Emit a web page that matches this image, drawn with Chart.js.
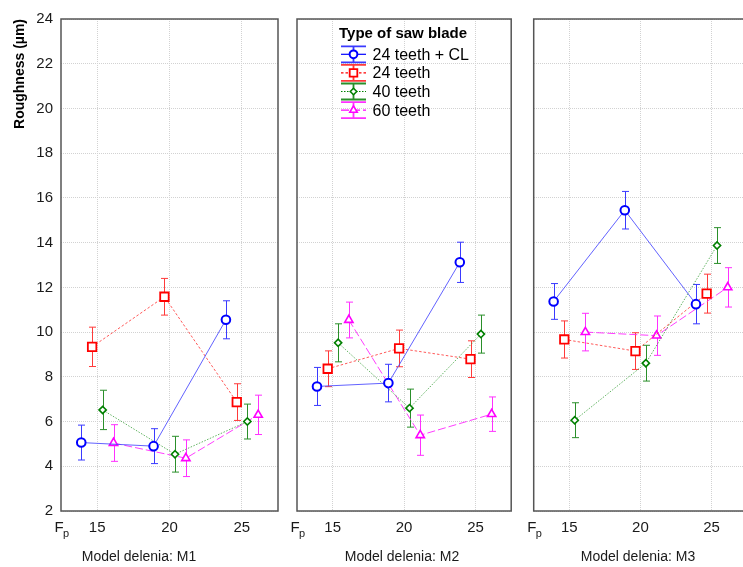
<!DOCTYPE html>
<html>
<head>
<meta charset="utf-8">
<title>Roughness by saw blade</title>
<script src="https://cdn.jsdelivr.net/npm/chart.js@4.4.1/dist/chart.umd.min.js"></script>
<style>
    html, body { margin: 0; padding: 0; background: #fff; overflow: hidden; }
    #quadro { position: relative; width: 743px; height: 567px; overflow: hidden; }
    #quadro canvas { position: absolute; top: 0; }
</style>
</head>
<body>
<div id="quadro">
    <canvas id="painelM1" width="290" height="567" style="left:0px"></canvas>
    <canvas id="painelM2" width="230" height="567" style="left:289px"></canvas>
    <canvas id="painelM3" width="230" height="567" style="left:525px"></canvas>
</div>
<script>
// valores
const fpTicks = [15, 20, 25];
const nomesSerras = ["24 teeth + CL", "24 teeth", "40 teeth", "60 teeth"];
const titulosPaineis = ["Model delenia: M1", "Model delenia: M2", "Model delenia: M3"];
const tituloEixoY = "Roughness (µm)";

// M1 - medias e meia amplitude do intervalo
const m1Dentes24CL = [5.06, 4.90, 10.55];
const m1Dentes24CLErro = [0.78, 0.78, 0.85];
const m1Dentes24 = [9.34, 11.58, 6.87];
const m1Dentes24Erro = [0.88, 0.82, 0.82];
const m1Dentes40 = [6.52, 4.54, 6.00];
const m1Dentes40Erro = [0.88, 0.80, 0.78];
const m1Dentes60 = [5.04, 4.36, 6.30];
const m1Dentes60Erro = [0.82, 0.82, 0.88];

// M2
const m2Dentes24CL = [7.57, 7.72, 13.12];
const m2Dentes24CLErro = [0.85, 0.84, 0.90];
const m2Dentes24 = [8.36, 9.27, 8.79];
const m2Dentes24Erro = [0.80, 0.82, 0.82];
const m2Dentes40 = [9.52, 6.60, 9.91];
const m2Dentes40Erro = [0.85, 0.85, 0.85];
const m2Dentes60 = [10.54, 5.39, 6.33];
const m2Dentes60Erro = [0.80, 0.90, 0.77];

// M3
const m3Dentes24CL = [11.37, 15.45, 11.25];
const m3Dentes24CLErro = [0.80, 0.84, 0.88];
const m3Dentes24 = [9.67, 9.15, 11.72];
const m3Dentes24Erro = [0.83, 0.82, 0.87];
const m3Dentes40 = [6.06, 8.61, 13.87];
const m3Dentes40Erro = [0.78, 0.80, 0.80];
const m3Dentes60 = [10.00, 9.84, 12.00];
const m3Dentes60Erro = [0.84, 0.88, 0.88];

const FONTE = "'Liberation Sans', Arial, sans-serif";
Chart.defaults.font.family = FONTE;
Chart.defaults.color = "#1a1a1a";

// aparencia de cada serie (deslocamento horizontal para nao sobrepor)
const estilosSeries = [
    { linha: "rgba(70,70,255,0.85)", erro: "#3a3aff", marcador: "#0000ff", dash: [], ponto: "circle", raio: 4.3, borda: 2, desvio: -1.1 },
    { linha: "rgba(255,60,60,0.85)", erro: "#ff3a3a", marcador: "#ff0000", dash: [2.5, 2], ponto: "rect", raio: 6, borda: 1.8, desvio: -0.35 },
    { linha: "rgba(60,160,60,0.8)", erro: "#2a8f2a", marcador: "#008000", dash: [1.5, 1.5], ponto: "rectRot", raio: 3.6, borda: 1.6, desvio: 0.38 },
    { linha: "rgba(255,40,255,0.9)", erro: "#ff30ff", marcador: "#ff00ff", dash: [8, 3], ponto: "triangle", raio: 4.8, borda: 1.6, desvio: 1.13 },
];

/**
 * desenha barras de erro verticais com tracos nas pontas
 */
const pluginBarrasErro = {
    id: "barrasErro",
    beforeDatasetsDraw(chart) {
        const ctx = chart.ctx;
        const escalaY = chart.scales.y;
        chart.data.datasets.forEach((ds, i) => {
            const meta = chart.getDatasetMeta(i);
            ctx.save();
            ctx.strokeStyle = ds.corErro;
            ctx.lineWidth = 1;
            meta.data.forEach((pt, j) => {
                const e = ds.erros[j];
                const yTopo = escalaY.getPixelForValue(ds.data[j].y + e);
                const yBase = escalaY.getPixelForValue(ds.data[j].y - e);
                const x = Math.round(pt.x) + 0.5;
                ctx.beginPath();
                ctx.moveTo(x, yTopo); ctx.lineTo(x, yBase);
                ctx.moveTo(x - 3.5, yTopo); ctx.lineTo(x + 3.5, yTopo);
                ctx.moveTo(x - 3.5, yBase); ctx.lineTo(x + 3.5, yBase);
                ctx.stroke();
            });
            ctx.restore();
        });
    },
};

/**
 * moldura do painel e rotulo F_p
 */
const pluginMoldura = {
    id: "moldura",
    afterDraw(chart) {
        const { ctx, chartArea } = chart;
        ctx.save();
        ctx.strokeStyle = "#555";
        ctx.lineWidth = 1.5;
        ctx.strokeRect(chartArea.left, chartArea.top, chartArea.right - chartArea.left, chartArea.bottom - chartArea.top);
        ctx.fillStyle = "#1a1a1a";
        ctx.textBaseline = "middle";
        ctx.textAlign = "left";
        ctx.font = "15px " + FONTE;
        ctx.fillText("F", chartArea.left - 6.5, chartArea.bottom + 17);
        ctx.font = "11px " + FONTE;
        ctx.fillText("p", chartArea.left + 2, chartArea.bottom + 23);
        ctx.restore();
    },
};

/**
 * legenda desenhada dentro do painel M2
 */
const pluginLegenda = {
    id: "legendaSerra",
    afterDraw(chart, args, opcoes) {
        if (!opcoes.mostrar) return;
        const { ctx, chartArea } = chart;
        const xs = chartArea.left + 44;
        const xc = xs + 12.5;
        ctx.save();
        ctx.fillStyle = "#000";
        ctx.textAlign = "left";
        ctx.textBaseline = "alphabetic";
        ctx.font = "bold 15px " + FONTE;
        ctx.fillText("Type of saw blade", chartArea.left + 42, chartArea.top + 18.5);

        chart.data.datasets.forEach((ds, i) => {
            const cy = chartArea.top + 35.3 + i * 18.6;
            ctx.strokeStyle = ds.corErro;
            ctx.lineWidth = 1.8;
            ctx.setLineDash([]);
            ctx.beginPath();
            ctx.moveTo(xs, cy - 8); ctx.lineTo(xs + 25, cy - 8);
            ctx.moveTo(xs, cy + 8); ctx.lineTo(xs + 25, cy + 8);
            ctx.moveTo(xc, cy - 8); ctx.lineTo(xc, cy + 8);
            ctx.stroke();

            ctx.strokeStyle = ds.marcadorCor;
            ctx.lineWidth = 1.2;
            ctx.setLineDash(ds.borderDash);
            ctx.beginPath();
            ctx.moveTo(xs, cy); ctx.lineTo(xs + 25, cy);
            ctx.stroke();
            ctx.setLineDash([]);

            ctx.fillStyle = "#fff";
            ctx.strokeStyle = ds.pointBorderColor;
            ctx.lineWidth = ds.pointBorderWidth;
            Chart.helpers.drawPoint(ctx, { pointStyle: ds.pointStyle, radius: ds.pointRadius * 0.9, rotation: 0, borderWidth: ds.pointBorderWidth }, xc, cy);

            ctx.fillStyle = "#000";
            ctx.textBaseline = "middle";
            ctx.font = "16px " + FONTE;
            ctx.fillText(ds.label, xs + 31.5, cy + 1);
        });
        ctx.restore();
    },
};

/**
 * cria um painel com as quatro series
 */
function criarPainel(canvasId, indice, series, erros, cfg) {
    const datasets = series.map((valores, i) => {
        const est = estilosSeries[i];
        return {
            label: nomesSerras[i],
            data: valores.map((v, j) => ({ x: fpTicks[j] + est.desvio, y: v })),
            erros: erros[i],
            corErro: est.erro,
            marcadorCor: est.marcador,
            borderColor: est.linha,
            borderWidth: 1,
            borderDash: est.dash,
            pointStyle: est.ponto,
            pointRadius: est.raio,
            pointBorderWidth: est.borda,
            pointBorderColor: est.marcador,
            pointBackgroundColor: "#fff",
            showLine: true,
            tension: 0,
        };
    });

    const mostrarY = indice === 0;

    return new Chart(document.getElementById(canvasId).getContext("2d"), {
        type: "scatter",
        data: { datasets },
        options: {
            responsive: false,
            animation: false,
            layout: { padding: { left: 0, right: cfg.direita, top: 19, bottom: 0 } },
            plugins: {
                legend: { display: false },
                tooltip: { enabled: false },
                title: {
                    display: true,
                    position: "bottom",
                    text: titulosPaineis[indice],
                    font: { size: 14, weight: "normal" },
                    color: "#1a1a1a",
                    padding: { top: 7.6, bottom: 1.6 },
                },
                legendaSerra: { mostrar: indice === 1 },
            },
            scales: {
                x: {
                    type: "linear",
                    min: 12.5,
                    max: 27.5,
                    afterBuildTicks: (escala) => { escala.ticks = fpTicks.map(v => ({ value: v })); },
                    afterFit: (escala) => { escala.height = 30; },
                    ticks: { font: { size: 15 }, padding: 8, color: "#1a1a1a", maxRotation: 0 },
                    grid: { color: "#d2d2d2", lineWidth: 1, drawTicks: false },
                    border: { display: false, dash: [1, 1] },
                },
                y: {
                    min: 2,
                    max: 24,
                    afterFit: (escala) => { escala.width = cfg.larguraY; },
                    ticks: { display: mostrarY, stepSize: 2, font: { size: 15 }, padding: 8, color: "#1a1a1a" },
                    title: {
                        display: mostrarY,
                        text: tituloEixoY,
                        align: "end",
                        font: { size: 14, weight: "bold" },
                        color: "#000",
                        padding: { top: 11.6, bottom: 0 },
                    },
                    grid: { color: "#d2d2d2", lineWidth: 1, drawTicks: false },
                    border: { display: false, dash: [1, 1] },
                },
            },
        },
        plugins: [pluginBarrasErro, pluginMoldura, pluginLegenda],
    });
}

// inicializacao
criarPainel("painelM1", 0,
    [m1Dentes24CL, m1Dentes24, m1Dentes40, m1Dentes60],
    [m1Dentes24CLErro, m1Dentes24Erro, m1Dentes40Erro, m1Dentes60Erro],
    { larguraY: 61, direita: 12 });
criarPainel("painelM2", 1,
    [m2Dentes24CL, m2Dentes24, m2Dentes40, m2Dentes60],
    [m2Dentes24CLErro, m2Dentes24Erro, m2Dentes40Erro, m2Dentes60Erro],
    { larguraY: 8, direita: 4 });
criarPainel("painelM3", 2,
    [m3Dentes24CL, m3Dentes24, m3Dentes40, m3Dentes60],
    [m3Dentes24CLErro, m3Dentes24Erro, m3Dentes40Erro, m3Dentes60Erro],
    { larguraY: 8.7, direita: 4 });
</script>
</body>
</html>
